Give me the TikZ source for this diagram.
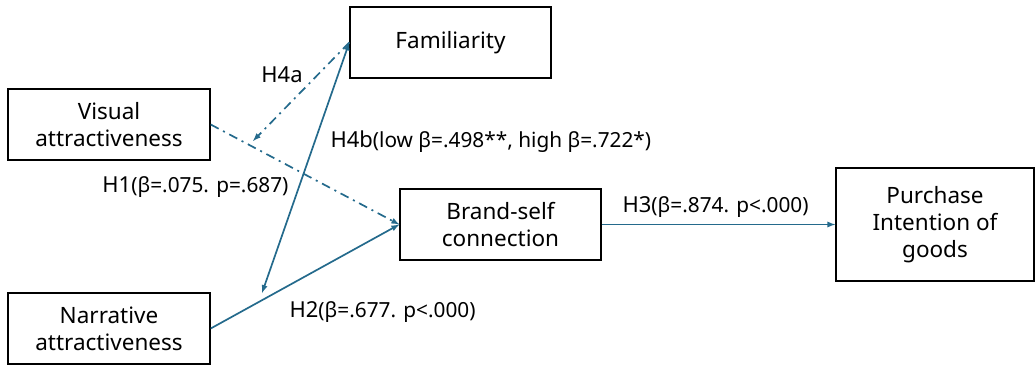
\documentclass[tikz,border=0pt]{standalone}
\usepackage{fontspec}
\setmainfont{Noto Sans}
\usetikzlibrary{arrows}
\definecolor{pathblue}{RGB}{36,106,140}
\newcommand{\hlab}[2]{{\fontsize{22}{26}\selectfont #1}{\fontsize{20.8}{24}\selectfont #2}}

\begin{document}
\begin{tikzpicture}[x=1pt,y=-1pt,
  var/.style={draw=black,line width=1.4pt,align=center,inner sep=0pt,
    font=\fontsize{22.5}{27}\selectfont},
  path/.style={draw=pathblue,line width=1.7pt,-latex},
  dashdot/.style={path,dash pattern=on 9pt off 5pt on 2pt off 5pt}]
  \useasboundingbox (0,0) rectangle (1036,366);
  \node[var,minimum width=202pt,minimum height=71pt] (vis) at (109,124.5) {Visual\\attractiveness};
  \node[var,minimum width=202pt,minimum height=71pt] (nar) at (109,328.5) {Narrative\\attractiveness};
  \node[var,minimum width=201pt,minimum height=71pt] (fam) at (450.5,42.5) {Familiarity};
  \node[var,minimum width=201pt,minimum height=71pt] (bsc) at (500.5,224.5) {Brand-self\\connection};
  \node[var,minimum width=198pt,minimum height=113pt] (pig) at (935,224.5) {Purchase\\Intention of\\goods};
  \coordinate (h1mid) at (253,141);
  \coordinate (h2mid) at (262,293);
  %
  \draw[dashdot] (vis.east) -- (bsc.west);
  \draw[dashdot] (fam.west) -- (h1mid);
  \draw[path,latex-latex] (h2mid) -- (fam.west);
  \draw[path] (nar.east) -- (bsc.west);
  \draw[path] (bsc.east) -- (pig.west);
  %
  \node (h4a) at (282,75) {\hlab{H4a}{}};
  \node[anchor=west] (h4b) at (327,142) {\hlab{H4b}{(low β=.498**, high β=.722*)}};
  \node[anchor=east] (h1) at (292,187) {\hlab{H1}{(β=.075. p=.687)}};
  \node[anchor=west] (h3) at (619,207) {\hlab{H3}{(β=.874. p<.000)}};
  \node[anchor=west] (h2) at (286,312) {\hlab{H2}{(β=.677. p<.000)}};
\end{tikzpicture}
\end{document}
